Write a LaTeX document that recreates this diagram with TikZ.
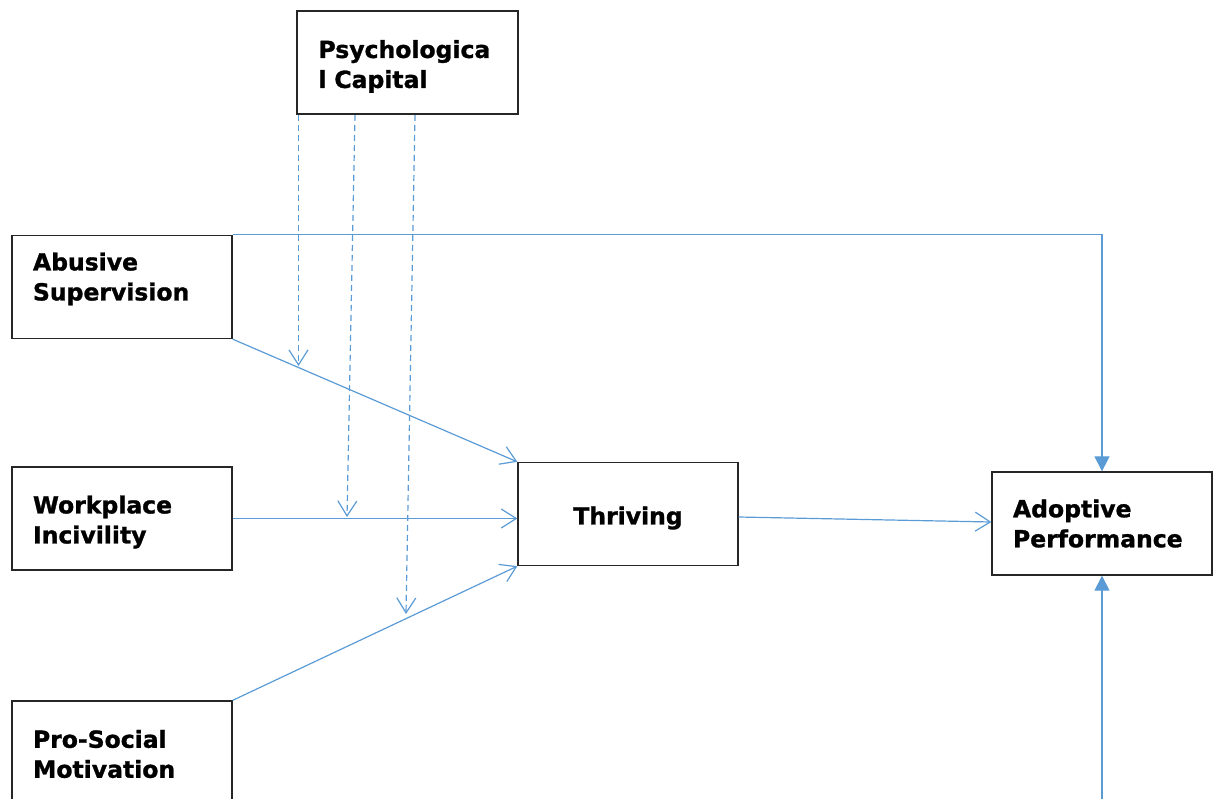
\documentclass[tikz,border=0pt]{standalone}
\usepackage{fontspec}
\setmainfont{DejaVu Sans}[BoldFeatures={FakeBold=1.2}]
\usetikzlibrary{arrows.meta}
\definecolor{linkblue}{HTML}{5B9BD5}
\tikzset{
  box/.style={draw=black!85, line width=1.3pt, rectangle, minimum height=103pt,
    inner xsep=21pt, inner ysep=0pt, text width=178pt, align=left,
    font=\fontsize{23.5}{30}\selectfont\bfseries},
  link/.style={draw=linkblue, line width=1.2pt},
  openhead/.style={-{Straight Barb[length=15pt,width=19pt,line width=1.2pt]}},
  fillhead/.style={-{Triangle[length=15pt,width=15pt]}},
  moderator/.style={link, dash pattern=on 6pt off 4pt, openhead}
}
\begin{document}
\begin{tikzpicture}[x=1pt,y=-1pt]
\useasboundingbox (0,0) rectangle (1213,798);
\node[box, minimum width=221pt, text depth=27pt] (psy) at (407.5,62.5) {Psychologica\\l Capital};
\node[box, text depth=51pt] (abs) at (122,287) {Abusive\\Supervision};
\node[box, text depth=28pt] (wpi) at (122,518.5) {Workplace\\Incivility};
\node[box, minimum height=106pt] (pro) at (122,754) {Pro-Social\\Motivation};
\node[box, align=center, text height=26pt] (thr) at (628,514) {Thriving};
\node[box] (adp) at (1102,523.5) {Adoptive\\Performance};

\coordinate (s1) at (298.5,115);
\coordinate (s2) at (355,115);
\coordinate (s3) at (415,115);
\coordinate (m1) at (298.5,366);
\coordinate (m2) at (347,517);
\coordinate (m3) at (406,614);
\coordinate (bot) at (1102,800);

\draw[link, openhead] (abs.south east) -- (thr.north west);
\draw[link, openhead] (wpi.east) -- (wpi.east -| thr.west);
\draw[link, openhead] (pro.north east) -- (thr.south west);
\draw[link, openhead] ([yshift=-3pt]thr.east) -- ([yshift=1.5pt]adp.west);
\draw[link, fillhead] (abs.north east) -| (adp.north);
\draw[link, fillhead] (adp.south |- bot) -- (adp.south);

\draw[moderator] (s1) -- (m1);
\draw[moderator] (s2) -- (m2);
\draw[moderator] (s3) -- (m3);
\end{tikzpicture}
\end{document}
